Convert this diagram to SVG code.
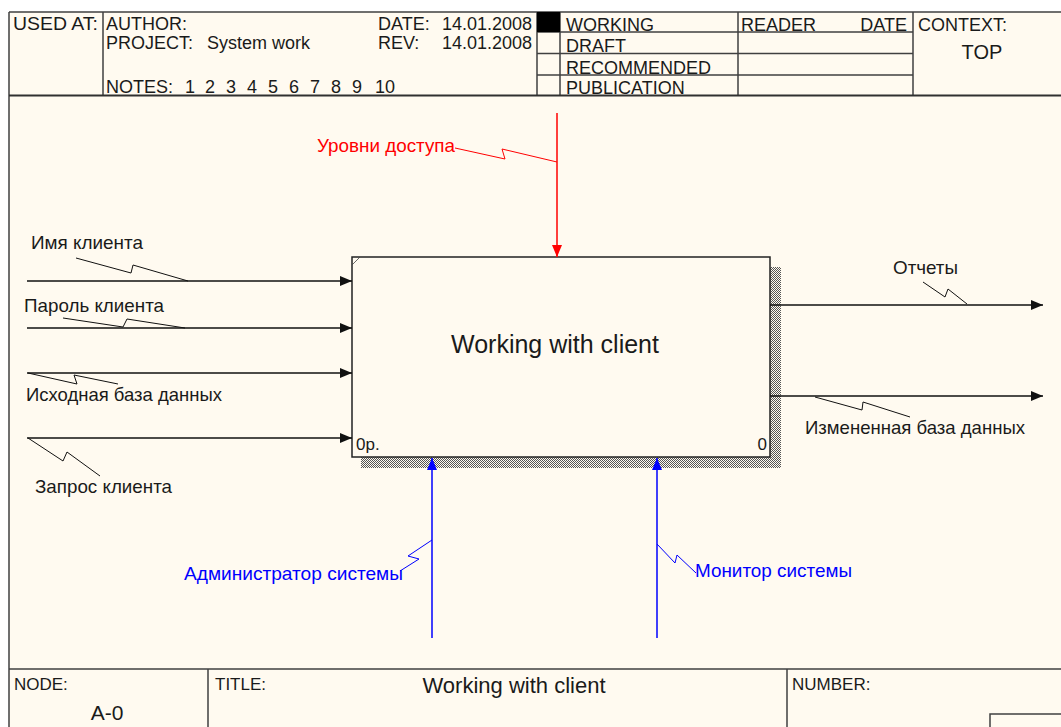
<svg xmlns="http://www.w3.org/2000/svg" width="1061" height="727" viewBox="0 0 1061 727">
<style>
text{font-family:"Liberation Sans",Arial,sans-serif;fill:#1a1a1a}
.h{font-size:18px}
.lbl{font-size:18.5px}
.f{font-size:17px}
.frame{fill:none;stroke:#404040;stroke-width:1.5}
.blk{stroke:#111;stroke-width:1.5;fill:none}
.sq{stroke:#111;stroke-width:1;fill:none}
.red{stroke:#ff0000;stroke-width:1.5;fill:none}
.sqr{stroke:#ff0000;stroke-width:1;fill:none}
.blue{stroke:#0000ff;stroke-width:1.5;fill:none}
.sqb{stroke:#0000ff;stroke-width:1;fill:none}
</style>
<defs>
<pattern id="hatch" width="2" height="2" patternUnits="userSpaceOnUse">
<rect width="2" height="2" fill="#fffaf0"/>
<rect x="0" y="0" width="1" height="1" fill="#555"/>
<rect x="1" y="1" width="1" height="1" fill="#555"/>
</pattern>
<marker id="ab" viewBox="0 0 12 10" refX="12" refY="5" markerWidth="12" markerHeight="10" markerUnits="userSpaceOnUse" orient="auto"><path d="M0,0 L12,5 L0,10 Z" fill="#111"/></marker>
<marker id="ar" viewBox="0 0 12 10" refX="12" refY="5" markerWidth="12" markerHeight="10" markerUnits="userSpaceOnUse" orient="auto"><path d="M0,0 L12,5 L0,10 Z" fill="#ff0000"/></marker>
<marker id="au" viewBox="0 0 12 10" refX="12" refY="5" markerWidth="12" markerHeight="10" markerUnits="userSpaceOnUse" orient="auto"><path d="M0,0 L12,5 L0,10 Z" fill="#0000ff"/></marker>
</defs>
<rect x="0" y="0" width="1061" height="727" fill="#ffffff"/>
<rect x="9" y="12" width="1060" height="720" fill="#fffaf0"/>

<g id="header">
<path class="frame" d="M9,12 H1061 M9,12 V727 M103,12 V96 M537,12 V96 M560,12 V96 M738,12 V96 M913,12 V96 M537,32 H913 M537,53.5 H913 M537,75 H913"/>
<path d="M9,95.5 H1061" stroke="#303030" stroke-width="2.2"/>
<rect x="537" y="12" width="23" height="20" fill="#000"/>
<text class="h" x="13" y="30" textLength="85" lengthAdjust="spacingAndGlyphs">USED AT:</text>
<text class="h" x="106" y="30">AUTHOR:</text>
<text class="h" x="106" y="49">PROJECT:</text>
<text class="h" x="207" y="49">System work</text>
<text class="h" x="378" y="30">DATE:</text>
<text class="h" x="532" y="30" text-anchor="end">14.01.2008</text>
<text class="h" x="378" y="49">REV:</text>
<text class="h" x="532" y="49" text-anchor="end">14.01.2008</text>
<text class="h" y="93"><tspan x="106">NOTES:</tspan><tspan x="185">1</tspan><tspan x="205">2</tspan><tspan x="226">3</tspan><tspan x="247">4</tspan><tspan x="268">5</tspan><tspan x="289">6</tspan><tspan x="310">7</tspan><tspan x="331">8</tspan><tspan x="352">9</tspan><tspan x="375">10</tspan></text>
<text class="h" x="566" y="31">WORKING</text>
<text class="h" x="566" y="52">DRAFT</text>
<text class="h" x="566" y="74">RECOMMENDED</text>
<text class="h" x="566" y="94">PUBLICATION</text>
<text class="h" x="741" y="31">READER</text>
<text class="h" x="907" y="31" text-anchor="end">DATE</text>
<text class="h" x="918" y="31">CONTEXT:</text>
<text x="982" y="59" font-size="20" text-anchor="middle">TOP</text>
</g>

<g id="footer">
<path class="frame" d="M9,669 H1061 M208,669 V727 M787,669 V727"/>
<rect x="990" y="714" width="80" height="20" class="frame"/>
<text class="f" x="14" y="690">NODE:</text>
<text x="107" y="720" font-size="21" text-anchor="middle">A-0</text>
<text class="f" x="215" y="690">TITLE:</text>
<text x="514" y="693" font-size="22" text-anchor="middle">Working with client</text>
<text class="f" x="792" y="690">NUMBER:</text>
</g>

<g id="node-A0">
<rect x="361" y="457" width="420" height="11" fill="url(#hatch)"/>
<rect x="770" y="267" width="11" height="201" fill="url(#hatch)"/>
<rect x="352" y="257" width="418" height="200" fill="#fffaf0" stroke="#222" stroke-width="1.5"/>
<path d="M352,265 L360,257" stroke="#444" stroke-width="0.8"/>
<text x="555" y="353" font-size="25" text-anchor="middle">Working with client</text>
<text x="356" y="450" font-size="17">0р.</text>
<text x="767" y="450" font-size="17" text-anchor="end">0</text>
</g>

<g id="connectors">
<path class="blk" d="M27,281 H352" marker-end="url(#ab)"/>
<path class="blk" d="M27,328 H352" marker-end="url(#ab)"/>
<path class="blk" d="M27,373 H352" marker-end="url(#ab)"/>
<path class="blk" d="M27,438 H352" marker-end="url(#ab)"/>
<path class="sq" d="M76,258 L131,273 L133,265 L188,281"/>
<path class="sq" d="M63,318 L123,327 L127,319 L185,328"/>
<path class="sq" d="M28,373 L77,384 L74,375 L118,384"/>
<path class="sq" d="M28,438 L63,461 L67,452 L100,476"/>
<path class="blk" d="M770,305 H1043" marker-end="url(#ab)"/>
<path class="blk" d="M770,396 H1043" marker-end="url(#ab)"/>
<path class="sq" d="M923,282 L945,297 L948,289 L967,304"/>
<path class="sq" d="M815,397 L862,410 L863,402 L910,417"/>
<path class="red" d="M557,113 V257" marker-end="url(#ar)"/>
<path class="sqr" d="M455,148 L505,159 L502,149 L557,162"/>
<path class="blue" d="M432,638 V458" marker-end="url(#au)"/>
<path class="blue" d="M657,638 V458" marker-end="url(#au)"/>
<path class="sqb" d="M432,540 L408,556 L419,559 L400,571"/>
<path class="sqb" d="M657,544 L675,563 L677,555 L696,573"/>
</g>

<g id="labels">
<text class="lbl" x="31" y="249" textLength="112" lengthAdjust="spacingAndGlyphs">Имя клиента</text>
<text class="lbl" x="24" y="312" textLength="140" lengthAdjust="spacingAndGlyphs">Пароль клиента</text>
<text class="lbl" x="26" y="401" textLength="196" lengthAdjust="spacingAndGlyphs">Исходная база данных</text>
<text class="lbl" x="35" y="493" textLength="137" lengthAdjust="spacingAndGlyphs">Запрос клиента</text>
<text class="lbl" x="893" y="274" textLength="65" lengthAdjust="spacingAndGlyphs">Отчеты</text>
<text class="lbl" x="805" y="434" textLength="220" lengthAdjust="spacingAndGlyphs">Измененная база данных</text>
<text class="lbl" x="317" y="152" textLength="138" lengthAdjust="spacingAndGlyphs" style="fill:#ff0000">Уровни доступа</text>
<text class="lbl" x="184" y="580" textLength="219" lengthAdjust="spacingAndGlyphs" style="fill:#0000ff">Администратор системы</text>
<text class="lbl" x="695" y="577" textLength="157" lengthAdjust="spacingAndGlyphs" style="fill:#0000ff">Монитор системы</text>
</g>
</svg>
